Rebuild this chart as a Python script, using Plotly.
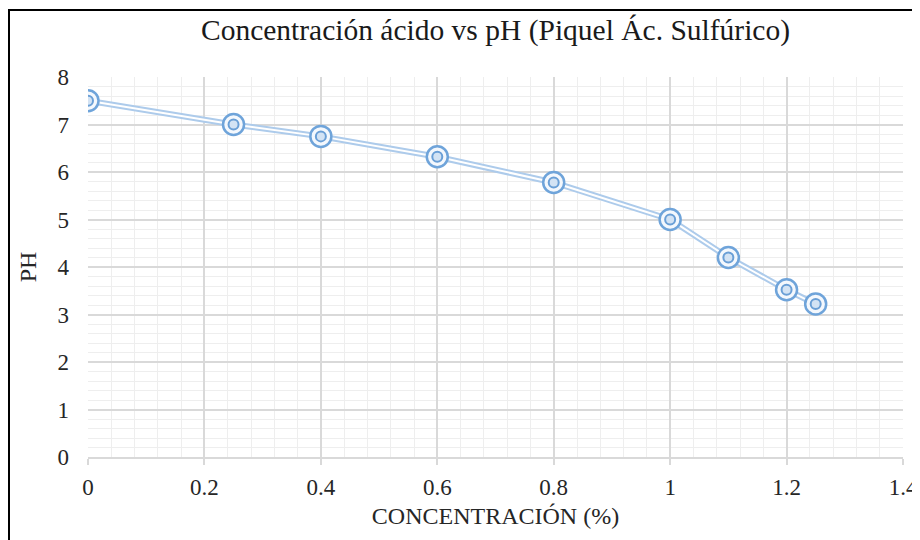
import plotly.graph_objects as go

concentracion = [0, 0.25, 0.4, 0.6, 0.8, 1.0, 1.1, 1.2, 1.25]
ph = [7.5, 7.0, 6.75, 6.32, 5.78, 5.0, 4.2, 3.52, 3.22]

title_text = "Concentración ácido vs pH (Piquel Ác. Sulfúrico)"
x_title = "CONCENTRACIÓN (%)"
y_title = "PH"

FONT = "Liberation Serif"

fig = go.Figure()
# double line: outer light blue, inner white
fig.add_trace(go.Scatter(x=concentracion, y=ph, mode="lines",
                         line=dict(color="#adcbeb", width=6), hoverinfo="skip", showlegend=False))
fig.add_trace(go.Scatter(x=concentracion, y=ph, mode="lines",
                         line=dict(color="#ffffff", width=2), hoverinfo="skip", showlegend=False))
# double-ring markers
fig.add_trace(go.Scatter(x=concentracion, y=ph, mode="markers",
                         marker=dict(symbol="circle", size=21, color="#f4f8fd",
                                     line=dict(color="#6fa4da", width=2.5)),
                         showlegend=False))
fig.add_trace(go.Scatter(x=concentracion, y=ph, mode="markers",
                         marker=dict(symbol="circle", size=10, color="#d3e3f4",
                                     line=dict(color="#6a9fd6", width=2)),
                         showlegend=False))

# page body has an 8px margin, so the figure is drawn 8px in from the corner
OFF = 8
W, H = 920 - OFF, 540 - OFF
L, R, T, B = 88 - OFF, 17, 77 - OFF, 83
pw, ph_ = W - L - R, H - T - B

fig.update_layout(
    width=W, height=H,
    margin=dict(l=L, r=R, t=T, b=B, autoexpand=False),
    paper_bgcolor="white", plot_bgcolor="white",
    font=dict(family=FONT, color="#262626", size=23),
    title=dict(text=title_text, x=0.5, xref="paper", xanchor="center",
               y=1 - (30 - OFF) / H, yanchor="middle",
               font=dict(family=FONT, size=29.5, color="#1a1a1a")),
    xaxis=dict(range=[0, 1.4], dtick=0.2, tick0=0,
               showgrid=True, gridcolor="#d9d9d9", gridwidth=1.5,
               minor=dict(dtick=0.04, showgrid=True, gridcolor="#eeeeee", gridwidth=1),
               showline=True, linecolor="#d9d9d9", linewidth=1.5,
               ticks="outside", ticklen=6, tickcolor="#d9d9d9", tickwidth=1.5,
               ticklabelstandoff=3,
               zeroline=False,
               title=dict(text=x_title, standoff=8, font=dict(size=24, family=FONT)),
               tickfont=dict(size=23, family=FONT)),
    yaxis=dict(range=[0, 8], dtick=1, tick0=0,
               showgrid=True, gridcolor="#d9d9d9", gridwidth=1.5,
               minor=dict(dtick=0.2, showgrid=True, gridcolor="#eeeeee", gridwidth=1),
               showline=False, zeroline=False, ticks="",
               ticklabelstandoff=18,
               title=dict(text=y_title, standoff=14, font=dict(size=24, family=FONT)),
               tickfont=dict(size=23, family=FONT)),
    shapes=[dict(type="rect", xref="paper", yref="paper",
                 x0=(9 - OFF - L) / pw, x1=(930 - OFF - L) / pw,
                 y0=-(560 - (540 - B)) / ph_, y1=1 + (T - (10 - OFF)) / ph_,
                 line=dict(color="black", width=2), fillcolor="rgba(0,0,0,0)", layer="below")],
)

fig.write_html("out.html")
